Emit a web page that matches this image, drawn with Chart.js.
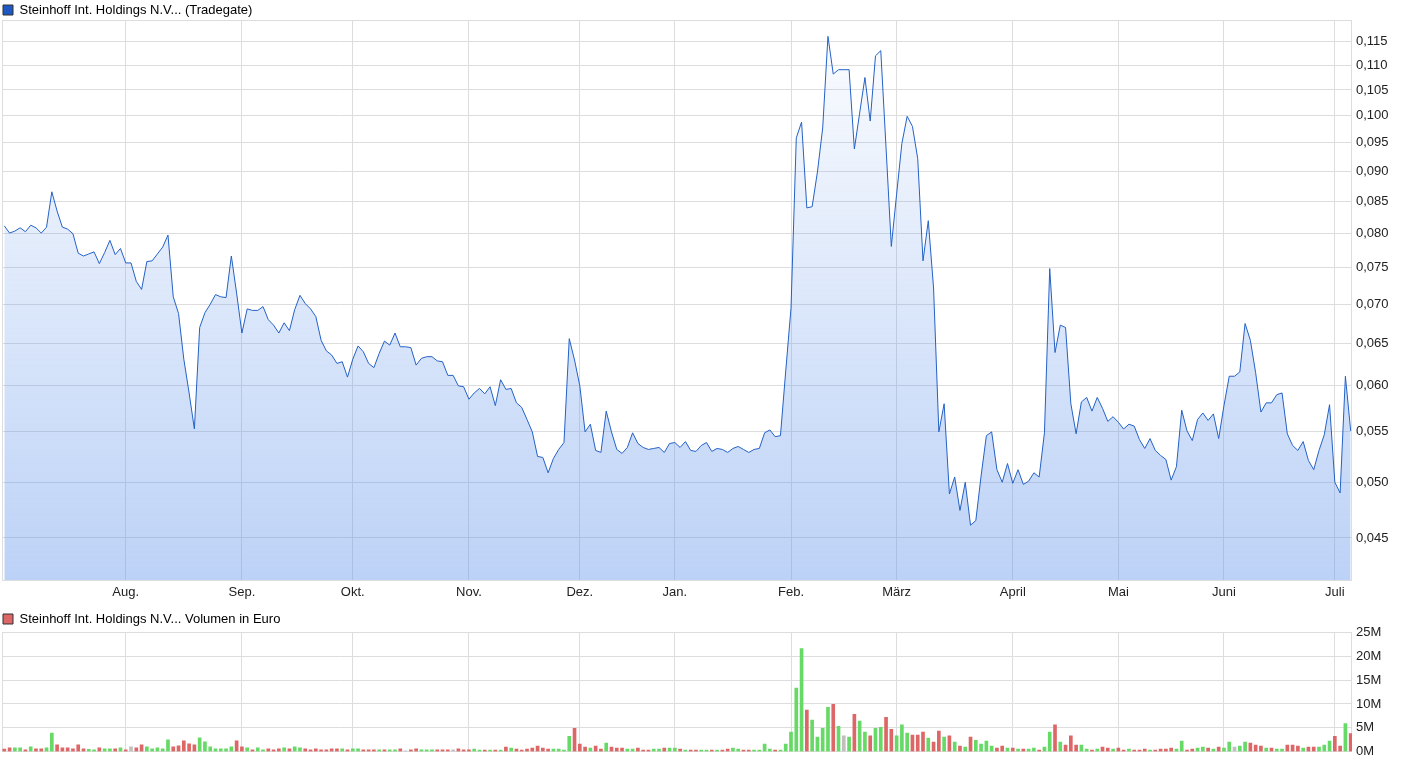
<!DOCTYPE html>
<html>
<head>
<meta charset="utf-8">
<script src="https://cdn.jsdelivr.net/npm/chart.js@4.4.1/dist/chart.umd.min.js"></script>
<style>
  body { margin: 0; background: #fff; }
  canvas { display: block; }
</style>
</head>
<body>
<canvas id="priceChart" width="1410" height="605"></canvas>
<canvas id="volChart" width="1410" height="161"></canvas>
<script>
// one value per trading day
const prices = [
  0.0812,0.0801,0.0804,0.0809,0.0803,0.0813,0.0809,0.0801,0.0810,0.0866,
  0.0835,0.0810,0.0807,0.0800,0.0771,0.0767,0.0770,0.0773,0.0756,0.0772,
  0.0790,0.0769,0.0778,0.0757,0.0757,0.0731,0.0720,0.0759,0.0760,0.0770,
  0.0780,0.0798,0.0710,0.0688,0.0631,0.0592,0.0553,0.0670,0.0689,0.0700,
  0.0713,0.0710,0.0709,0.0767,0.0715,0.0663,0.0694,0.0692,0.0692,0.0697,
  0.0680,0.0673,0.0663,0.0676,0.0666,0.0693,0.0712,0.0701,0.0694,0.0684,
  0.0654,0.0641,0.0636,0.0626,0.0628,0.0610,0.0631,0.0647,0.0640,0.0626,
  0.0621,0.0638,0.0653,0.0648,0.0663,0.0646,0.0646,0.0645,0.0624,0.0632,
  0.0634,0.0634,0.0629,0.0628,0.0612,0.0612,0.0600,0.0599,0.0585,0.0592,
  0.0597,0.0591,0.0599,0.0578,0.0607,0.0596,0.0597,0.0581,0.0576,0.0563,
  0.0550,0.0525,0.0524,0.0509,0.0523,0.0532,0.0539,0.0656,0.0630,0.0600,
  0.0550,0.0558,0.0531,0.0529,0.0572,0.0550,0.0532,0.0528,0.0534,0.0549,
  0.0538,0.0534,0.0532,0.0533,0.0534,0.0529,0.0538,0.0539,0.0534,0.0540,
  0.0531,0.0530,0.0536,0.0539,0.0530,0.0533,0.0532,0.0529,0.0533,0.0535,
  0.0532,0.0529,0.0532,0.0533,0.0549,0.0552,0.0545,0.0546,0.0617,0.0695,
  0.0959,0.0988,0.0840,0.0842,0.0899,0.0977,0.1162,0.1082,0.1091,0.1091,
  0.1091,0.0939,0.1005,0.1075,0.0990,0.1120,0.1131,0.0941,0.0781,0.0862,
  0.0949,0.0999,0.0980,0.0922,0.0760,0.0820,0.0722,0.0550,0.0580,0.0489,
  0.0505,0.0474,0.0500,0.0461,0.0465,0.0506,0.0546,0.0550,0.0512,0.0500,
  0.0518,0.0499,0.0512,0.0498,0.0501,0.0509,0.0505,0.0549,0.0749,0.0639,
  0.0673,0.0670,0.0580,0.0548,0.0582,0.0587,0.0572,0.0587,0.0575,0.0561,
  0.0566,0.0560,0.0553,0.0558,0.0556,0.0542,0.0533,0.0543,0.0531,0.0526,
  0.0522,0.0502,0.0515,0.0573,0.0551,0.0541,0.0563,0.0570,0.0562,0.0569,
  0.0543,0.0578,0.0611,0.0611,0.0616,0.0675,0.0654,0.0615,0.0571,0.0581,
  0.0581,0.0590,0.0592,0.0548,0.0536,0.0531,0.0540,0.0521,0.0512,0.0531,
  0.0547,0.0579,0.0500,0.0490,0.0611,0.0551
];

// volume in million euro
const volumes = [
  0.55,0.82,0.82,0.82,0.41,1.03,0.62,0.62,0.82,3.9,
  1.44,0.82,0.82,0.62,1.44,0.62,0.48,0.41,0.82,0.62,
  0.62,0.62,0.82,0.41,1.03,0.82,1.44,1.03,0.62,0.82,
  0.62,2.47,1.03,1.23,2.26,1.64,1.44,2.88,2.05,1.03,
  0.62,0.62,0.62,1.03,2.26,1.03,0.82,0.41,0.82,0.41,
  0.62,0.41,0.62,0.82,0.62,1.03,0.82,0.62,0.41,0.62,
  0.41,0.41,0.62,0.62,0.62,0.41,0.62,0.62,0.41,0.41,
  0.41,0.41,0.41,0.41,0.41,0.62,0.2,0.41,0.62,0.41,
  0.41,0.41,0.41,0.41,0.41,0.41,0.62,0.41,0.41,0.55,
  0.34,0.34,0.34,0.34,0.34,0.96,0.75,0.55,0.34,0.55,
  0.75,1.16,0.75,0.55,0.55,0.55,0.34,3.2,4.9,1.6,
  0.96,0.75,1.16,0.55,1.8,0.96,0.75,0.75,0.55,0.55,
  0.75,0.34,0.34,0.55,0.55,0.75,0.75,0.75,0.55,0.34,
  0.34,0.34,0.34,0.34,0.34,0.34,0.34,0.55,0.75,0.55,
  0.34,0.34,0.34,0.34,1.6,0.55,0.34,0.35,1.6,4.1,
  13.3,21.6,8.7,6.6,3.05,4.9,9.3,9.9,5.3,3.3,
  3.05,7.85,6.4,4.1,3.3,4.9,5.1,7.2,4.7,3.3,
  5.6,3.9,3.5,3.5,4.1,2.85,2.0,4.3,3.05,3.3,
  2.0,1.2,0.97,3.05,2.4,1.6,2.2,1.2,0.76,1.2,
  0.76,0.76,0.55,0.55,0.55,0.76,0.35,0.97,4.1,5.6,
  2.0,1.4,3.3,1.4,1.4,0.55,0.34,0.55,0.96,0.75,
  0.55,0.75,0.34,0.55,0.34,0.34,0.55,0.34,0.34,0.55,
  0.55,0.75,0.55,2.2,0.34,0.55,0.75,0.96,0.75,0.55,
  0.96,0.75,2.0,0.96,1.16,2.0,1.8,1.4,1.16,0.75,
  0.75,0.55,0.55,1.4,1.4,1.16,0.75,0.96,0.96,0.96,
  1.4,2.2,3.2,1.16,5.9,3.8
];

// 1 = up, -1 = down, 0 = unchanged
const volDir = [
  -1,-1,1,1,-1,1,-1,-1,1,1,
  -1,-1,-1,-1,-1,-1,1,1,-1,1,
  1,-1,1,-1,0,-1,-1,1,1,1,
  1,1,-1,-1,-1,-1,-1,1,1,1,
  1,1,1,1,-1,-1,1,-1,1,1,
  -1,-1,-1,1,-1,1,1,-1,-1,-1,
  -1,-1,-1,-1,1,-1,1,1,-1,-1,
  -1,1,-1,1,1,-1,0,-1,-1,1,
  1,1,-1,-1,-1,0,-1,-1,-1,1,
  1,-1,1,-1,1,-1,1,-1,-1,-1,
  -1,-1,-1,-1,1,1,1,1,-1,-1,
  -1,1,-1,-1,1,-1,-1,-1,1,1,
  -1,-1,-1,1,1,-1,1,1,-1,1,
  -1,-1,1,1,-1,1,-1,-1,1,1,
  -1,-1,1,1,1,1,-1,1,1,1,
  1,1,-1,1,1,1,1,-1,1,0,
  1,-1,1,1,-1,1,1,-1,-1,1,
  1,1,-1,-1,-1,1,-1,-1,1,-1,
  1,-1,1,-1,1,1,1,1,-1,-1,
  1,-1,1,-1,1,1,-1,1,1,-1,
  1,-1,-1,-1,1,1,-1,1,-1,-1,
  1,-1,-1,1,-1,-1,-1,1,-1,-1,
  -1,-1,1,1,-1,-1,1,1,-1,1,
  -1,1,1,0,1,1,-1,-1,-1,1,
  -1,1,1,-1,-1,-1,1,-1,-1,1,
  1,1,-1,-1,1,-1
];

const monthLabels = ['Aug.', 'Sep.', 'Okt.', 'Nov.', 'Dez.', 'Jan.', 'Feb.', 'März', 'April', 'Mai', 'Juni', 'Juli'];
const monthIdx = [23, 45, 66, 88, 109, 127, 149, 169, 191, 211, 231, 252];
const priceTicks = [0.045, 0.050, 0.055, 0.060, 0.065, 0.070, 0.075, 0.080, 0.085, 0.090, 0.095, 0.100, 0.105, 0.110, 0.115];
const volTicks = [0, 5, 10, 15, 20, 25];

const GRID = '#dddddd';
const X_MIN = -0.436;
const X_MAX = 255.25;

Chart.defaults.font.family = '"Liberation Sans", Arial, sans-serif';
Chart.defaults.font.size = 13;
Chart.defaults.color = '#222';

const frame = {
  id: 'frame',
  beforeDatasetsDraw(chart) {
    const { ctx, chartArea: a } = chart;
    ctx.save();
    ctx.strokeStyle = GRID;
    ctx.lineWidth = 1;
    ctx.strokeRect(Math.round(a.left) + 0.5, Math.round(a.top) + 0.5,
      Math.round(a.right - a.left) - 1, Math.round(a.bottom - a.top));
    ctx.restore();
  }
};

function monthAxis(showLabels, height) {
  return {
    type: 'linear',
    min: X_MIN,
    max: X_MAX,
    offset: false,
    afterBuildTicks: (s) => { s.ticks = monthIdx.map((v) => ({ value: v })); },
    afterFit: (s) => { s.height = height; },
    grid: { color: GRID, drawTicks: false, offset: false },
    border: { display: false },
    ticks: {
      display: showLabels,
      padding: 5,
      autoSkip: false,
      maxRotation: 0,
      callback: (v) => monthLabels[monthIdx.indexOf(v)] || ''
    }
  };
}

function legendOpts(text, fill, maxHeight) {
  return {
    display: true,
    position: 'top',
    align: 'start',
    maxHeight: maxHeight,
    labels: {
      boxWidth: 10,
      boxHeight: 10,
      padding: 1,
      color: '#222',
      generateLabels: () => [{
        text: text,
        fillStyle: fill,
        strokeStyle: '#333',
        lineWidth: 1,
        datasetIndex: 0
      }]
    }
  };
}

new Chart(document.getElementById('priceChart'), {
  type: 'line',
  data: {
    datasets: [{
      data: prices.map((v, i) => ({ x: i, y: v })),
      borderColor: '#2361c6',
      borderWidth: 1,
      pointRadius: 0,
      tension: 0,
      fill: 'start',
      backgroundColor: (c) => {
        const a = c.chart.chartArea;
        if (!a) return 'rgba(100,150,235,0.3)';
        const g = c.chart.ctx.createLinearGradient(0, a.top, 0, a.bottom);
        g.addColorStop(0, 'rgba(100,150,235,0.02)');
        g.addColorStop(1, 'rgba(100,150,235,0.43)');
        return g;
      }
    }]
  },
  options: {
    responsive: false,
    animation: false,
    layout: { padding: { top: 2.5, left: 2, right: 0, bottom: 0 } },
    plugins: {
      legend: legendOpts('Steinhoff Int. Holdings N.V... (Tradegate)', '#1f58c2', 17.5),
      tooltip: { enabled: false }
    },
    scales: {
      x: monthAxis(true, 25),
      y: {
        type: 'logarithmic',
        position: 'right',
        min: 0.04156,
        max: 0.11985,
        afterBuildTicks: (s) => { s.ticks = priceTicks.map((v) => ({ value: v })); },
        afterFit: (s) => { s.width = 58; },
        grid: { color: GRID, drawTicks: false },
        border: { display: false },
        ticks: {
          padding: 4,
          autoSkip: false,
          callback: (v) => v.toFixed(3).replace('.', ',')
        }
      }
    }
  },
  plugins: [frame]
});

new Chart(document.getElementById('volChart'), {
  type: 'bar',
  data: {
    datasets: [{
      data: volumes.map((v, i) => ({ x: i, y: v * 1e6 })),
      barThickness: 3,
      backgroundColor: (c) => {
        const d = volDir[c.dataIndex];
        return d > 0 ? '#66d966' : d < 0 ? '#dd6666' : '#c0c0c0';
      }
    }]
  },
  options: {
    responsive: false,
    animation: false,
    layout: { padding: { top: 6.5, left: 2, right: 0, bottom: 0 } },
    plugins: {
      legend: legendOpts('Steinhoff Int. Holdings N.V... Volumen in Euro', '#dd6666', 20.8),
      tooltip: { enabled: false }
    },
    scales: {
      x: monthAxis(false, 14.3),
      y: {
        type: 'linear',
        position: 'right',
        min: 0,
        max: 25e6,
        afterBuildTicks: (s) => { s.ticks = volTicks.map((v) => ({ value: v * 1e6 })); },
        afterFit: (s) => { s.width = 58; },
        grid: { color: GRID, drawTicks: false },
        border: { display: false },
        ticks: {
          padding: 4,
          autoSkip: false,
          callback: (v) => (v / 1e6) + 'M'
        }
      }
    }
  },
  plugins: [frame]
});
</script>
</body>
</html>
